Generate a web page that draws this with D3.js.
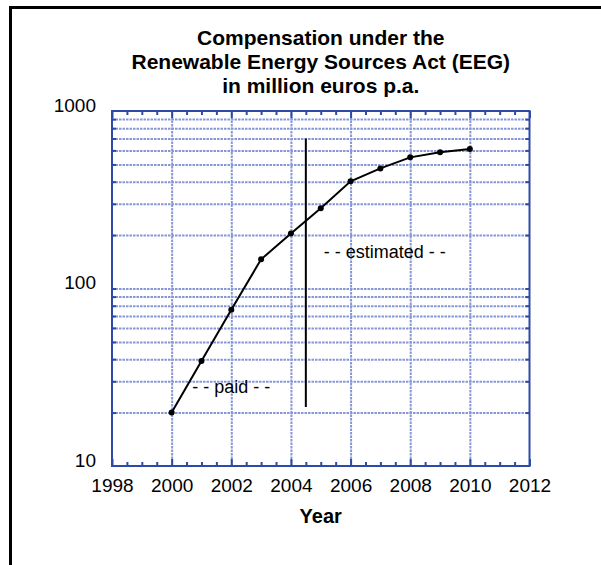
<!DOCTYPE html>
<html>
<head>
<meta charset="utf-8">
<script src="https://cdn.jsdelivr.net/npm/d3@7"></script>
<style>
body{margin:0;background:#fff;}
svg{display:block;font-family:"Liberation Sans",Arial,Helvetica,sans-serif;}
.grid line{stroke:#8797d6;stroke-width:2;stroke-dasharray:2.5,1;}
.grid path{display:none;}
.tk line{stroke:#2d4aa6;stroke-width:2;}
.tk path{display:none;}
.lbl path{display:none;}
.lbl text{font-size:19px;fill:#000;}
</style>
</head>
<body>
<div id="chart"></div>
<script>
var W = 601, H = 565;
var margin = {top:111, right:71.5, bottom:99, left:112};
var w = W - margin.left - margin.right;
var h = H - margin.top - margin.bottom;

// data
var years = [2000,2001,2002,2003,2004,2005,2006,2007,2008,2009,2010];
var comp  = [20,39,76,146,204,283,402,475,548,585,611];

var titleLines = ["Compensation under the","Renewable Energy Sources Act (EEG)","in million euros p.a."];
var xLabels = [1998,2000,2002,2004,2006,2008,2010,2012];
var yLabels = [10,100,1000];
var gridX = [2000,2002,2004,2006,2008,2010];
var gridY = [20,30,40,50,60,70,80,90,100,200,300,400,500,600,700,800,900];
var minorX = [];
for(var t=1998.5;t<2012;t+=0.5){ if(t%2!==0) minorX.push(t); }
var divider = {year:2004.5, from:21.5, to:700};
var notes = [{text:"- - paid - -", year:2002, v:25.8},{text:"- - estimated - -", year:2007.15, v:148}];

var x = d3.scaleLinear().domain([1998,2012]).range([0,w]);
var y = d3.scaleLog().domain([10,1000]).range([h,0]);

var svg = d3.select("#chart").append("svg")
	.attr("width",W).attr("height",H);

// outer border (top + left only)
svg.append("line").attr("x1",9).attr("x2",W).attr("y1",7.5).attr("y2",7.5)
	.attr("stroke","#000").attr("stroke-width",3);
svg.append("line").attr("x1",10.5).attr("x2",10.5).attr("y1",6).attr("y2",H)
	.attr("stroke","#000").attr("stroke-width",3);

// title
svg.append("text")
	.attr("x",margin.left+w/2).attr("y",45)
	.attr("text-anchor","middle")
	.style("font-weight","bold").style("font-size","21px")
	.selectAll("tspan").data(titleLines).enter().append("tspan")
	.attr("x",margin.left+w/2)
	.attr("dy",function(d,i){return i===0?0:"1.14em";})
	.text(function(d){return d;});

var g = svg.append("g").attr("transform","translate("+margin.left+","+margin.top+")");

// grid
g.append("g").attr("class","grid")
	.attr("transform","translate(0,"+h+")")
	.call(d3.axisBottom(x).tickValues(gridX).tickSize(-h).tickFormat(""));
g.append("g").attr("class","grid")
	.call(d3.axisLeft(y).tickValues(gridY).tickSize(-w).tickFormat(""));

// ticks inward
g.append("g").attr("class","tk").attr("transform","translate(0,"+h+")")
	.call(d3.axisBottom(x).tickValues(minorX).tickSize(-4).tickFormat(""));
g.append("g").attr("class","tk").attr("transform","translate(0,"+h+")")
	.call(d3.axisBottom(x).tickValues(xLabels).tickSize(-7).tickFormat(""));
g.append("g").attr("class","tk")
	.call(d3.axisTop(x).tickValues(minorX).tickSize(-4).tickFormat(""));
g.append("g").attr("class","tk")
	.call(d3.axisTop(x).tickValues(xLabels).tickSize(-7).tickFormat(""));
g.append("g").attr("class","tk")
	.call(d3.axisLeft(y).tickValues(gridY).tickSize(-4).tickFormat(""));
g.append("g").attr("class","tk").attr("transform","translate("+w+",0)")
	.call(d3.axisRight(y).tickValues(gridY).tickSize(-4).tickFormat(""));

// frame
g.append("rect").attr("width",w).attr("height",h)
	.attr("fill","none").attr("stroke","#2d4aa6").attr("stroke-width",2);

// tick labels
g.append("g").attr("class","lbl").attr("transform","translate(0,"+h+")")
	.call(d3.axisBottom(x).tickValues(xLabels).tickSize(0).tickPadding(13).tickFormat(d3.format("d")));
g.append("g").attr("class","lbl")
	.call(d3.axisLeft(y).tickValues(yLabels).tickSize(0).tickPadding(16).tickFormat(d3.format("d")))
	.selectAll("text").attr("dy","0");

// axis title
svg.append("text")
	.attr("x",margin.left+w/2).attr("y",523)
	.attr("text-anchor","middle")
	.style("font-weight","bold").style("font-size","20px")
	.text("Year");

// divider between paid and estimated
g.append("line")
	.attr("x1",x(divider.year)).attr("x2",x(divider.year))
	.attr("y1",y(divider.from)).attr("y2",y(divider.to))
	.attr("stroke","#000").attr("stroke-width",2);

// notes
g.selectAll(".note").data(notes).enter().append("text")
	.attr("class","note")
	.attr("x",function(d){return x(d.year);})
	.attr("y",function(d){return y(d.v);})
	.attr("text-anchor","middle")
	.style("font-size","18px")
	.text(function(d){return d.text;});

// series
var pts = years.map(function(d,i){return [d,comp[i]];});
var line = d3.line().x(function(d){return x(d[0]);}).y(function(d){return y(d[1]);});
g.append("path").datum(pts)
	.attr("d",line).attr("fill","none")
	.attr("stroke","#000").attr("stroke-width",2);
g.selectAll(".dot").data(pts).enter().append("circle")
	.attr("class","dot")
	.attr("cx",function(d){return x(d[0]);})
	.attr("cy",function(d){return y(d[1]);})
	.attr("r",3)
	.attr("fill","#000");
</script>
</body>
</html>
